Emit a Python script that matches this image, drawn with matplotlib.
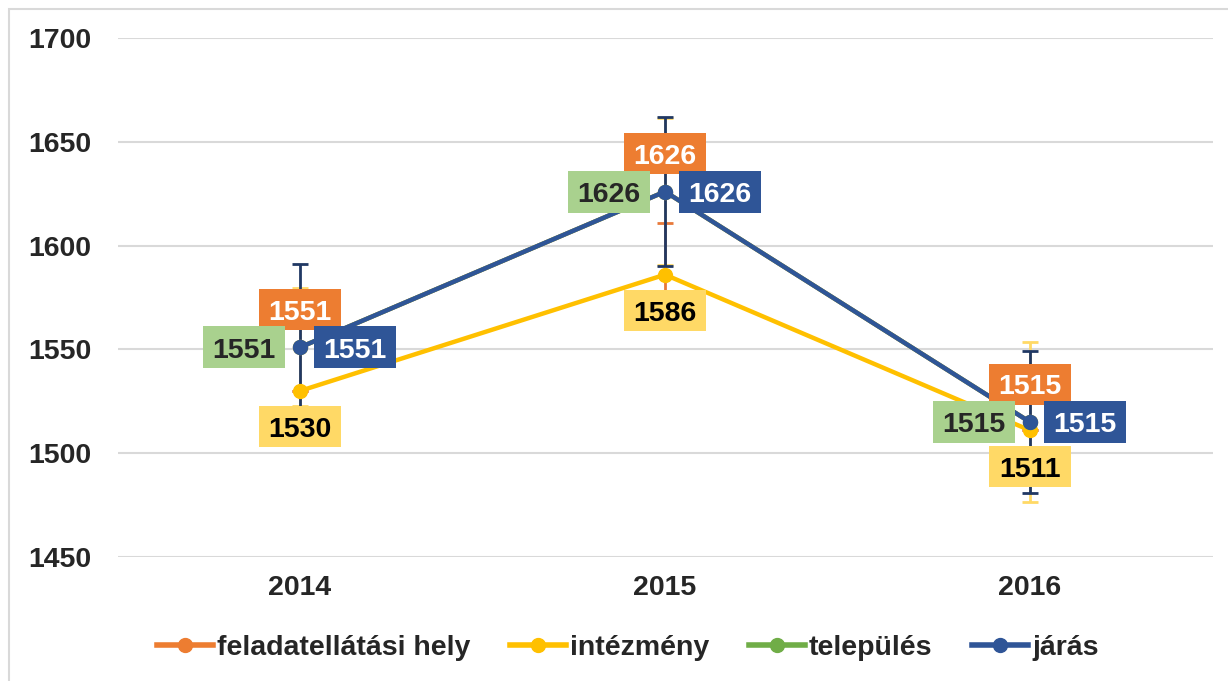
import matplotlib
matplotlib.use("Agg")
import matplotlib.pyplot as plt
from matplotlib.patches import Rectangle
from matplotlib.lines import Line2D
from matplotlib.transforms import IdentityTransform

plt.rcParams['font.family'] = ['Liberation Sans', 'DejaVu Sans']

years = ['2014', '2015', '2016']
series_names = ['feladatellátási hely', 'intézmény', 'település', 'járás']
feladat = [1551, 1626, 1515]
intezmeny = [1530, 1586, 1511]
telepules = [1551, 1626, 1515]
jaras = [1551, 1626, 1515]

# error bar half-widths
intezmeny_err = [0, 25, 0]
telepules_err = [28.5, 35.5, 38.5]
jaras_err = [40, 36, 34]

yticks = [1450, 1500, 1550, 1600, 1650, 1700]

colors = ['#ED7D31', '#FFC000', '#70AD47', '#2F5597']
box_colors = ['#ED7D31', '#FFD966', '#A9D18E', '#2F5597']
text_colors = ['white', 'black', '#262626', 'white']

W, H = 1228, 681
fig = plt.figure(figsize=(W / 100, H / 100), dpi=100)
ax = fig.add_axes([117.5 / W, 1 - 557 / H, 1095 / W, 519 / H])
ax.set_xlim(-0.5, 2.5)
ax.set_ylim(1450, 1700)

x = list(range(len(years)))

# error bars
ax.errorbar(x, telepules, yerr=telepules_err, fmt='none', ecolor='#FFD966',
            elinewidth=2, capsize=6, capthick=2, zorder=2)
ax.errorbar(x, intezmeny, yerr=intezmeny_err, fmt='none', ecolor='#E8793A',
            elinewidth=2, capsize=6, capthick=2, zorder=2.1)
ax.errorbar(x, jaras, yerr=jaras_err, fmt='none', ecolor='#203864',
            elinewidth=2, capsize=6, capthick=2, zorder=2.2)

all_series = [feladat, intezmeny, telepules, jaras]
for i, (vals, c) in enumerate(zip(all_series, colors)):
    ax.plot(x, vals, color=c, lw=3.2, marker='o', markersize=10,
            zorder=3 + i * 0.1, solid_capstyle='round')

ax.set_yticks(yticks)
ax.set_yticklabels([str(t) for t in yticks])
ax.set_xticks(x)
ax.set_xticklabels(years)
ax.tick_params(axis='both', length=0, labelsize=20.5, labelcolor='#262626')
ax.tick_params(axis='y', pad=19)
ax.tick_params(axis='x', pad=13)
for lab in ax.get_xticklabels() + ax.get_yticklabels():
    lab.set_fontweight('bold')
ax.grid(axis='y', color='#d9d9d9', lw=1.5)
ax.set_axisbelow(True)
for s in ax.spines.values():
    s.set_visible(False)

# data labels: (dx, dy in image pixels, width, height)
label_geom = [(0, -38, 82, 41), (0, 36, 82, 41), (-56, 0, 82, 42), (55, 0, 82, 42)]
fs_lab = 20.5
cap_px = 0.716 * fs_lab * 100 / 72
for i in [0, 1, 2, 3]:
    vals = all_series[i]
    dx, dy, w, h = label_geom[i]
    for xi, v in zip(x, vals):
        px, py = ax.transData.transform((xi, v))
        cx, cy = px + dx, py - dy
        r = Rectangle((cx - w / 2, cy - h / 2), w, h, facecolor=box_colors[i],
                      edgecolor='none', transform=IdentityTransform(),
                      zorder=10 + i, clip_on=False)
        ax.add_patch(r)
        ax.text(cx, cy - cap_px / 2, str(v), transform=IdentityTransform(),
                ha='center', va='baseline', fontsize=fs_lab, fontweight='bold',
                color=text_colors[i], zorder=10.5 + i, clip_on=False)

handles = [Line2D([0], [0], color=c, lw=4, marker='o', markersize=10)
           for c in colors]
leg = fig.legend(handles, series_names, loc='center',
                 bbox_to_anchor=(628 / W, 1 - 648 / H), ncol=4, frameon=False,
                 handlelength=1.95, handletextpad=0.15, columnspacing=1.4,
                 prop={'weight': 'bold', 'size': 20.5})
for t in leg.get_texts():
    t.set_color('#262626')

border = Rectangle((9 / W, -0.1), 1.2, 1 - 9 / H + 0.1, transform=fig.transFigure,
                   fill=False, edgecolor='#d9d9d9', lw=1.5)
fig.add_artist(border)

fig.savefig('out.png', dpi=100)
